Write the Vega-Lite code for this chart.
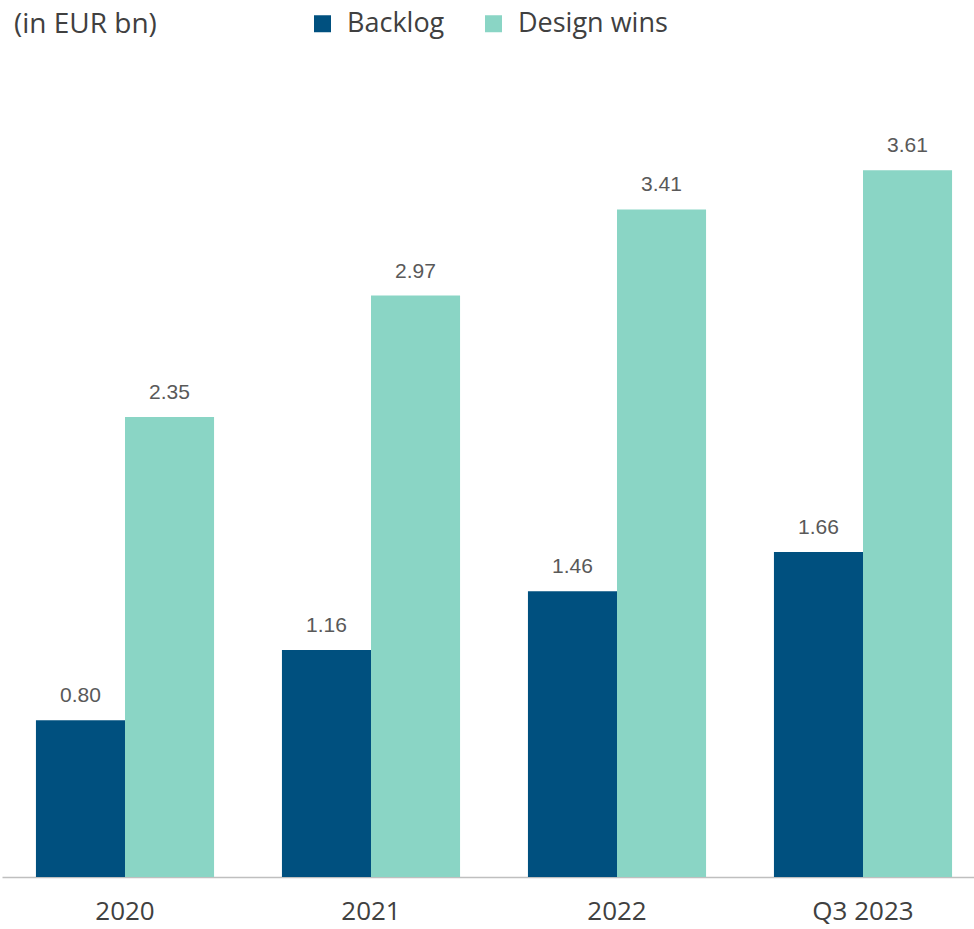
{
  "$schema": "https://vega.github.io/schema/vega-lite/v6.json",
  "autosize": {"type": "none"},
  "padding": {"top": 60, "left": 0, "right": 0, "bottom": 52},
  "width": 974,
  "height": 817,
  "background": "white",
  "config": {"view": {"stroke": null}},
  "title": {"text": "(in EUR bn)", "anchor": "start", "frame": "group", "font": "Open Sans", "fontSize": 28, "fontWeight": "normal", "color": "#404040", "dx": 14, "offset": 22, "dy": 51},
  "data": {"values": [
    {"period": "2020", "series": "Backlog", "value": 0.80},
    {"period": "2020", "series": "Design wins", "value": 2.35},
    {"period": "2021", "series": "Backlog", "value": 1.16},
    {"period": "2021", "series": "Design wins", "value": 2.97},
    {"period": "2022", "series": "Backlog", "value": 1.46},
    {"period": "2022", "series": "Design wins", "value": 3.41},
    {"period": "Q3 2023", "series": "Backlog", "value": 1.66},
    {"period": "Q3 2023", "series": "Design wins", "value": 3.61}
  ]},
  "encoding": {
    "x": {"field": "period", "type": "nominal", "sort": null,
      "scale": {"range": [2, 986], "paddingInner": 0.276, "paddingOuter": 0.138},
      "axis": {"title": null, "labelAngle": 0, "ticks": false, "domainColor": "#BFBFBF", "domainWidth": 1.5, "labelFont": "Open Sans", "labelFontSize": 26, "labelColor": "#404040", "labelPadding": 21}},
    "xOffset": {"field": "series", "type": "nominal", "sort": ["Backlog", "Design wins"]},
    "y": {"field": "value", "type": "quantitative", "scale": {"domain": [0, 4.173], "nice": false}, "axis": null}
  },
  "layer": [
    {"mark": {"type": "bar"},
     "encoding": {"color": {"field": "series", "type": "nominal", "sort": ["Backlog", "Design wins"],
       "scale": {"domain": ["Backlog", "Design wins"], "range": ["#00507F", "#8AD5C5"]},
       "legend": {"title": null, "orient": "none", "legendX": 309, "legendY": -50, "direction": "horizontal", "symbolType": "square", "symbolSize": 289, "symbolStrokeWidth": 0, "labelFont": "Open Sans", "labelFontSize": 27, "labelColor": "#404040", "columnPadding": 35, "labelOffset": 11}}}},
    {"mark": {"type": "text", "font": "Liberation Sans", "fontSize": 21, "color": "#595959", "baseline": "alphabetic", "dy": -18},
     "encoding": {"text": {"field": "value", "type": "quantitative", "format": ".2f"}}}
  ]
}
